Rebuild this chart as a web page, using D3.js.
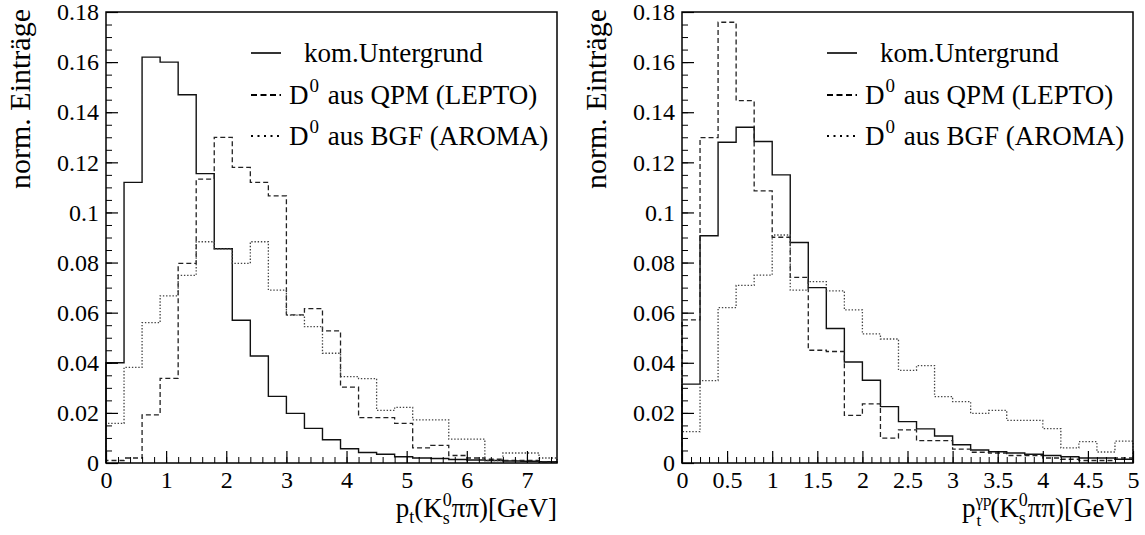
<!DOCTYPE html>
<html><head><meta charset="utf-8">
<script src="https://cdn.jsdelivr.net/npm/d3@7"></script>
<style>
body{margin:0;background:#fff}
svg{display:block}
svg text{font-family:"Liberation Serif","Times New Roman",Tinos,"DejaVu Serif","Noto Serif",serif !important;fill:#000}
</style>
</head><body>
<svg id="chart" width="1145" height="535"></svg>
<script>
// ---------------- data ----------------
const leftBinWidth = 0.3;   // GeV, 25 bins from 0 to 7.5
const leftKomUntergrund = [0.040,0.112,0.162,0.160,0.147,0.1155,0.0855,0.057,0.0427,0.0266,0.0198,0.0138,0.0093,0.0057,0.0042,0.0035,0.0025,0.002,0.0018,0.0014,0.0012,0.001,0.0008,0.0007,0.0005];
const leftQPM = [0.001,0.002,0.0192,0.0338,0.0797,0.1133,0.130,0.118,0.112,0.1066,0.0591,0.0616,0.0527,0.0303,0.0181,0.0181,0.0158,0.006,0.007,0.003,0.002,0.0015,0.001,0.001,0.0005];
const leftBGF = [0.0158,0.0382,0.056,0.0667,0.0749,0.0883,0.0855,0.0797,0.0883,0.069,0.059,0.0544,0.0438,0.0345,0.0337,0.021,0.0222,0.0172,0.0172,0.0095,0.0095,0.001,0.004,0.004,0.002];

const rightBinWidth = 0.2;  // GeV, 25 bins from 0 to 5
const rightKomUntergrund = [0.0315,0.0907,0.128,0.134,0.1283,0.115,0.088,0.070,0.0537,0.0403,0.033,0.0225,0.0165,0.0136,0.0108,0.0073,0.0052,0.0045,0.004,0.0035,0.003,0.0025,0.002,0.002,0.0015];
const rightQPM = [0.0571,0.1299,0.1759,0.1446,0.1086,0.0901,0.0741,0.045,0.0445,0.019,0.0236,0.0099,0.0132,0.0089,0.0089,0.0055,0.0043,0.004,0.003,0.003,0.002,0.0015,0.001,0.001,0.002];
const rightBGF = [0.0125,0.0329,0.062,0.0709,0.075,0.091,0.069,0.0724,0.0687,0.0611,0.0515,0.0495,0.037,0.0389,0.0265,0.0245,0.0198,0.021,0.017,0.017,0.0137,0.006,0.0085,0.0044,0.0087];

const yTicks = [0,0.02,0.04,0.06,0.08,0.1,0.12,0.14,0.16,0.18];
const yTickLabels = ["0","0.02","0.04","0.06","0.08","0.1","0.12","0.14","0.16","0.18"];
const leftXTicks = [0,1,2,3,4,5,6,7];
const leftXTickLabels = ["0","1","2","3","4","5","6","7"];
const rightXTicks = [0,0.5,1,1.5,2,2.5,3,3.5,4,4.5,5];
const rightXTickLabels = ["0","0.5","1","1.5","2","2.5","3","3.5","4","4.5","5"];
const yTitle = "norm. Einträge";
const legendNames = ["kom.Untergrund", "D|0| aus QPM (LEPTO)", "D|0| aus BGF (AROMA)"];

// ---------------- drawing ----------------
const FONT = '"Liberation Serif","Times New Roman",Tinos,"DejaVu Serif","Noto Serif",serif';
const svg = d3.select("#chart");
const Y0 = 463, Y1 = 12;
const y = d3.scaleLinear().domain([0, 0.18]).range([Y0, Y1]);
const styles = [
  {dash: null, w: 1.4, c: "#111"},
  {dash: "5,3", w: 1.3, c: "#222"},
  {dash: "1.4,1.8", w: 1.3, c: "#444"}
];
const legendStyles = [
  {dash: null, w: 1.6},
  {dash: "6,3.5", w: 1.8},
  {dash: "2,4.5", w: 2.2}
];

function drawPanel(opt) {
  const g = svg.append("g").attr("font-family", FONT);
  const x = d3.scaleLinear().domain([0, opt.xmax]).range([opt.x0, opt.x1]);

  // histograms
  const line = d3.line().x(d => x(d[0])).y(d => y(d[1])).curve(d3.curveStepAfter);
  opt.series.forEach((vals, si) => {
    const pts = [[0, 0]];
    vals.forEach((v, i) => pts.push([i * opt.bw, v]));
    pts.push([vals.length * opt.bw, vals[vals.length - 1]]);
    pts.push([vals.length * opt.bw, 0]);
    const st = styles[si];
    g.append("path").attr("d", line(pts)).attr("fill", "none")
      .attr("stroke", st.c).attr("stroke-width", st.w)
      .attr("stroke-dasharray", st.dash);
  });

  // minor ticks
  const yMinor = d3.range(0, 0.1801, 0.005);
  g.append("g").attr("transform", `translate(${opt.x0},0)`)
    .call(d3.axisLeft(y).tickValues(yMinor).tickSize(-6).tickFormat(""))
    .call(s => s.select(".domain").remove())
    .selectAll("line").attr("stroke", "#000");
  const xMinor = d3.range(0, opt.xmax + 1e-9, opt.xMinorStep);
  g.append("g").attr("transform", `translate(0,${Y0})`)
    .call(d3.axisBottom(x).tickValues(xMinor).tickSize(-6).tickFormat(""))
    .call(s => s.select(".domain").remove())
    .selectAll("line").attr("stroke", "#000");

  // major ticks + labels
  const ya = g.append("g").attr("transform", `translate(${opt.x0},0)`)
    .call(d3.axisLeft(y).tickValues(yTicks).tickSize(-12).tickPadding(7)
      .tickFormat((d, i) => yTickLabels[i]));
  ya.attr("font-family", FONT).attr("font-size", 24);
  ya.select(".domain").remove();
  ya.selectAll("line").attr("stroke", "#000").attr("stroke-width", 1.2);
  ya.selectAll("text").attr("font-family", FONT).attr("fill", "#000");

  const xa = g.append("g").attr("transform", `translate(0,${Y0})`)
    .call(d3.axisBottom(x).tickValues(opt.xTicks).tickSize(-12).tickPadding(8)
      .tickFormat((d, i) => opt.xTickLabels[i]));
  xa.attr("font-family", FONT).attr("font-size", 24);
  xa.select(".domain").remove();
  xa.selectAll("line").attr("stroke", "#000").attr("stroke-width", 1.2);
  xa.selectAll("text").attr("font-family", FONT).attr("fill", "#000");

  // frame
  g.append("rect").attr("x", opt.x0).attr("y", Y1)
    .attr("width", opt.x1 - opt.x0).attr("height", Y0 - Y1)
    .attr("fill", "none").attr("stroke", "#000").attr("stroke-width", 1.5);

  // y title
  g.append("text").attr("transform", `translate(${opt.x0 - 76},${Y1 - 3}) rotate(-90)`)
    .attr("text-anchor", "end").attr("font-size", 30).text(yTitle);

  // x title
  const t = g.append("text").attr("x", opt.x1).attr("y", 517)
    .attr("text-anchor", "end").attr("font-size", 27);
  opt.xTitle(t);

  // legend
  const lx0 = opt.x0 + 145, lx1 = opt.x0 + 175;
  const rows = [53, 95, 136];
  legendNames.forEach((name, i) => {
    const ls = legendStyles[i];
    g.append("line").attr("x1", lx0).attr("x2", lx1).attr("y1", rows[i]).attr("y2", rows[i])
      .attr("stroke", "#000").attr("stroke-width", ls.w).attr("stroke-dasharray", ls.dash);
    const parts = name.split("|");
    const tx = g.append("text").attr("x", i === 0 ? opt.x0 + 198 : opt.x0 + 183)
      .attr("y", rows[i] + 9).attr("font-size", 27);
    tx.append("tspan").text(parts[0]);
    if (parts.length > 1) {
      tx.append("tspan").attr("font-size", 19).attr("dx", 1).attr("dy", -12).text(parts[1]);
      tx.append("tspan").attr("dx", 2).attr("dy", 12).text(parts[2]);
    }
  });
}

drawPanel({
  x0: 106, x1: 557, xmax: 7.5, bw: leftBinWidth, xMinorStep: 0.2,
  xTicks: leftXTicks, xTickLabels: leftXTickLabels,
  series: [leftKomUntergrund, leftQPM, leftBGF],
  xTitle: t => {
    t.append("tspan").text("p");
    t.append("tspan").attr("font-size", 18).attr("dy", 6).text("t");
    t.append("tspan").attr("dy", -6).text("(K");
    t.append("tspan").attr("font-size", 18).attr("dy", -11).text("0");
    t.append("tspan").attr("font-size", 18).attr("dx", -9).attr("dy", 18).text("s");
    t.append("tspan").attr("dx", 2).attr("dy", -7).text("ππ)[GeV]");
  }
});
drawPanel({
  x0: 682, x1: 1133, xmax: 5, bw: rightBinWidth, xMinorStep: 0.1,
  xTicks: rightXTicks, xTickLabels: rightXTickLabels,
  series: [rightKomUntergrund, rightQPM, rightBGF],
  xTitle: t => {
    t.append("tspan").text("p");
    t.append("tspan").attr("font-size", 17).attr("dy", -11).text("γp");
    t.append("tspan").attr("font-size", 17).attr("dx", -15).attr("dy", 20).text("t");
    t.append("tspan").attr("dx", 9).attr("dy", -9).text("(K");
    t.append("tspan").attr("font-size", 18).attr("dy", -11).text("0");
    t.append("tspan").attr("font-size", 18).attr("dx", -9).attr("dy", 18).text("s");
    t.append("tspan").attr("dx", 2).attr("dy", -7).text("ππ)[GeV]");
  }
});
</script>
</body></html>
